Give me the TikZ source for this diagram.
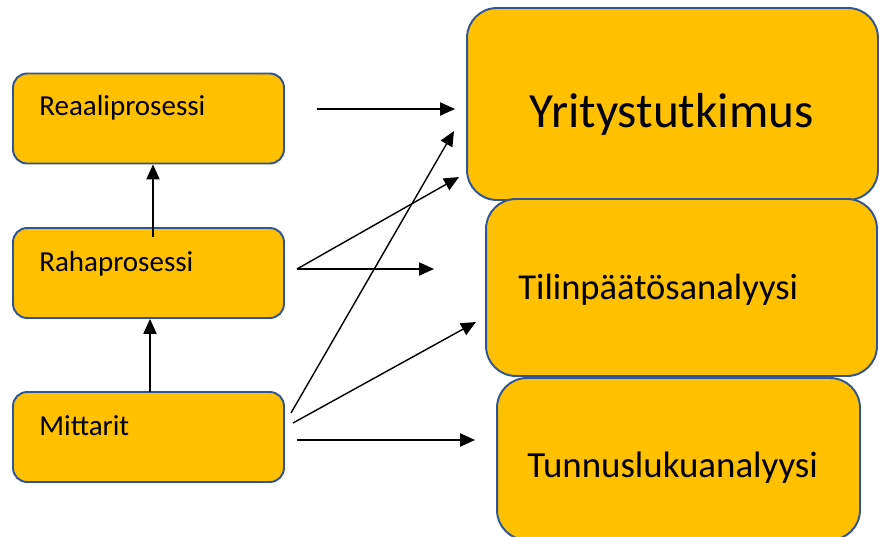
\documentclass[tikz,border=0pt]{standalone}
\usepackage{fontspec}
\setmainfont{Carlito}
\usetikzlibrary{arrows.meta}

\definecolor{boxfill}{RGB}{255,192,0}
\definecolor{boxline}{RGB}{47,85,151}

\tikzset{
  smallbox/.style={draw=boxline, fill=boxfill, line width=1.1pt, rounded corners=8pt,
                   minimum width=5.42cm, minimum height=1.8cm},
  bigbox/.style={draw=boxline, fill=boxfill, line width=1.1pt, rounded corners=17pt},
  smalltext/.style={anchor=base west, inner sep=0pt, font=\fontsize{16.5}{19}\selectfont},
  arr/.style={-{Triangle[length=8.5pt,width=7.5pt]}, line width=0.8pt}
}

\begin{document}
\begin{tikzpicture}[x=0.02cm,y=-0.02cm]
\useasboundingbox (0,0) rectangle (879,537);

%% left boxes
\node[smallbox] (reaal) at (148.5,118.5) {};   %% reaaliprosessi
\node[smallbox] (raha)  at (148.5,273)   {};   %% rahaprosessi
\node[smallbox] (mitt)  at (148.5,437)   {};   %% mittarit

%% right boxes
\node[bigbox, minimum width=8.22cm, minimum height=3.84cm] (yrit)  at (672.5,104)   {};
\node[bigbox, minimum width=7.82cm, minimum height=3.54cm] (tilin) at (681.5,287.5) {};
\node[bigbox, minimum width=7.26cm, minimum height=3.24cm] (tunn)  at (678.5,459)   {};

%% box labels
\node[smalltext] (reaaltxt) at (39,115) {Reaaliprosessi};
\node[smalltext] (rahatxt)  at (39,271) {Rahaprosessi};
\node[smalltext] (mitttxt)  at (39,435) {Mittarit};
\node[anchor=base, inner sep=0pt, font=\fontsize{28}{32}\selectfont] (yrittxt) at (671.5,128) {Yritystutkimus};
\node[anchor=base west, inner sep=0pt, font=\fontsize{20.8}{24}\selectfont] (tilintxt) at (518,299) {Tilinpäätösanalyysi};
\node[anchor=base west, inner sep=0pt, font=\fontsize{21}{24}\selectfont] (tunntxt) at (527,477) {Tunnuslukuanalyysi};

%% arrow ends
\coordinate (a1s) at (317,109);   \coordinate (a1e) at (455,109);
\coordinate (a2s) at (297,269);   \coordinate (a2e) at (459,177);
\coordinate (a3e) at (434,269);
\coordinate (a4s) at (291,413);   \coordinate (a4e) at (454,131);
\coordinate (a5s) at (293,423);   \coordinate (a5e) at (476,322);
\coordinate (a6s) at (297,440);   \coordinate (a6e) at (475,440);
\coordinate (v1) at (153,237);
\coordinate (v2) at (150,392);

%% arrows
\draw[arr] (v1) -- (v1 |- reaal.south);   %% raha -> reaal
\draw[arr] (v2) -- (v2 |- raha.south);    %% mitt -> raha
\draw[arr] (a1s) -- (a1e);                %% reaal
\draw[arr] (a2s) -- (a2e);                %% raha
\draw[arr] (a2s) -- (a3e);                %% raha
\draw[arr] (a4s) -- (a4e);                %% mitt
\draw[arr] (a5s) -- (a5e);                %% mitt
\draw[arr] (a6s) -- (a6e);                %% mitt
\end{tikzpicture}
\end{document}
